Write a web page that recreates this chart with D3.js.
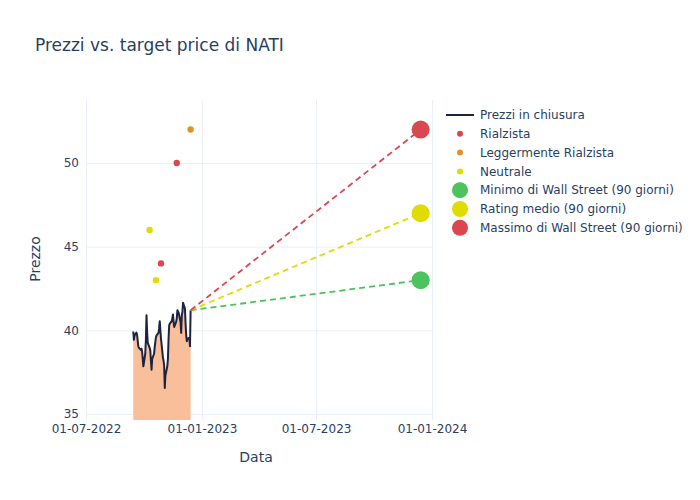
<!DOCTYPE html>
<html><head><meta charset="utf-8">
<script src="https://cdn.jsdelivr.net/npm/d3@7"></script>
<style>body{margin:0;background:#fff}svg, svg text{font-family:"DejaVu Sans",sans-serif}</style>
</head><body><svg id="c" width="700" height="500"></svg>
<script>
const dates = ["2022-09-14","2022-09-15","2022-09-16","2022-09-19","2022-09-20","2022-09-21","2022-09-22","2022-09-23","2022-09-26","2022-09-27","2022-09-28","2022-09-29","2022-09-30",
"2022-10-03","2022-10-04","2022-10-05","2022-10-06","2022-10-07","2022-10-10","2022-10-11","2022-10-12","2022-10-13","2022-10-14","2022-10-17","2022-10-18","2022-10-19","2022-10-20","2022-10-21","2022-10-24","2022-10-25","2022-10-26","2022-10-27","2022-10-28","2022-10-31",
"2022-11-01","2022-11-02","2022-11-03","2022-11-04","2022-11-07","2022-11-08","2022-11-09","2022-11-10","2022-11-11","2022-11-14","2022-11-15","2022-11-16","2022-11-17","2022-11-18","2022-11-21","2022-11-22","2022-11-23","2022-11-25","2022-11-28","2022-11-29","2022-11-30",
"2022-12-01","2022-12-02","2022-12-05","2022-12-06","2022-12-07","2022-12-08","2022-12-09","2022-12-12","2022-12-13","2022-12-14"];
const closes = [39.93,39.43,39.7,39.87,39.75,39.4,39.05,38.95,38.83,38.9,38.75,38.3,37.85,
38.6,39.4,40.9,39.9,39.25,38.95,38.8,38.2,37.65,38.3,38.6,39.0,39.3,39.6,39.7,39.85,40.1,40.55,40.0,39.5,38.4,
38.2,37.9,36.55,37.3,37.85,38.3,39.5,40.3,40.4,40.55,40.7,40.95,40.5,40.2,40.5,40.7,41.2,41.05,40.5,39.85,40.9,
41.1,41.65,41.3,40.4,39.7,39.35,39.5,39.55,39.05,41.2];

const ratingNames = ["Rialzista","Leggermente Rialzista","Neutrale"];
const ratingDates = [["2022-11-22","2022-10-28"],["2022-12-14"],["2022-10-10","2022-10-20"]];
const ratingValues = [[50,44],[52],[46,43]];

const targetDate = "2023-12-14";
const targetNames = ["Minimo di Wall Street (90 giorni)","Rating medio (90 giorni)","Massimo di Wall Street (90 giorni)"];
const targetValues = [43,47,52];

const xTicks = ["2022-07-01","2023-01-01","2023-07-01","2024-01-01"];
const yTicks = [35,40,45,50];

const FONT = "DejaVu Sans, sans-serif";
const textCol = "#2a3f5f", gridCol = "#ebf0f8";
const ratingCols = ["#d9474f","#e0922a","#e0dc00"];
const targetCols = ["#4cc35c","#e0dc00","#d9474f"];

const P = d3.timeParse("%Y-%m-%d");
const svg = d3.select("#c");
const L = 86, R = 433, T = 100, B = 420;
const x = d3.scaleTime().domain([P("2022-07-01"), P("2024-01-01")]).range([86, 432]);
const y = d3.scaleLinear().domain([35, 50]).range([414, 163]);

svg.append("defs").append("clipPath").attr("id","clip").append("rect").attr("x",L).attr("y",T).attr("width",R-L).attr("height",B-T);

const xAxis = d3.axisBottom(x).tickValues(xTicks.map(P)).tickFormat(d3.timeFormat("%d-%m-%Y")).tickSize(-(B-T)).tickPadding(8);
const gx = svg.append("g").attr("transform",`translate(0,${B})`).call(xAxis).attr("font-family",FONT);
gx.select(".domain").remove();
gx.selectAll("line").attr("stroke",gridCol);
gx.selectAll("text").attr("fill",textCol).attr("font-size",12).attr("dy","0.45em");

const yAxis = d3.axisLeft(y).tickValues(yTicks).tickSize(-(R-L)).tickPadding(7);
const gy = svg.append("g").attr("transform",`translate(${L},0)`).call(yAxis).attr("font-family",FONT);
gy.select(".domain").remove();
gy.selectAll("line").attr("stroke",gridCol);
gy.selectAll("text").attr("fill",textCol).attr("font-size",12);

const plot = svg.append("g").attr("clip-path","url(#clip)");
const pts = dates.map((d,i)=>({d:P(d), v:closes[i]}));

plot.append("path").datum(pts)
  .attr("d", d3.area().x(p=>x(p.d)).y0(y(0)).y1(p=>y(p.v)))
  .attr("fill","#f9bf9a");
plot.append("path").datum(pts)
  .attr("d", d3.line().x(p=>x(p.d)).y(p=>y(p.v)))
  .attr("fill","none").attr("stroke","#1c2440").attr("stroke-width",2).attr("stroke-linejoin","round");

const last = pts[pts.length-1];
targetValues.forEach((v,i)=>{
  plot.append("line").attr("x1",x(last.d)).attr("y1",y(last.v)).attr("x2",x(P(targetDate))).attr("y2",y(v))
    .attr("stroke",targetCols[i]).attr("stroke-width",1.8).attr("stroke-dasharray","6,4");
});
ratingNames.forEach((n,k)=>{
  ratingDates[k].forEach((d,j)=>{
    plot.append("circle").attr("cx",x(P(d))).attr("cy",y(ratingValues[k][j])).attr("r",3.2).attr("fill",ratingCols[k]);
  });
});
targetValues.forEach((v,i)=>{
  svg.append("circle").attr("cx",x(P(targetDate))).attr("cy",y(v)).attr("r",9).attr("fill",targetCols[i]);
});

svg.append("text").attr("x",35).attr("y",51).attr("fill",textCol).attr("font-size",17).text("Prezzi vs. target price di NATI");
svg.append("text").attr("x",256).attr("y",462).attr("text-anchor","middle").attr("fill",textCol).attr("font-size",14).text("Data");
svg.append("text").attr("transform",`translate(40,259) rotate(-90)`).attr("text-anchor","middle").attr("fill",textCol).attr("font-size",14).text("Prezzo");

const lg = svg.append("g");
const rowY = i => 115 + i*18.8;
lg.append("line").attr("x1",446).attr("x2",474).attr("y1",rowY(0)).attr("y2",rowY(0)).attr("stroke","#1c2440").attr("stroke-width",2);
lg.append("text").attr("x",480).attr("y",rowY(0)).attr("dy","0.35em").attr("fill",textCol).attr("font-size",12).text("Prezzi in chiusura");
ratingNames.forEach((n,k)=>{
  lg.append("circle").attr("cx",460).attr("cy",rowY(k+1)).attr("r",3).attr("fill",ratingCols[k]);
  lg.append("text").attr("x",480).attr("y",rowY(k+1)).attr("dy","0.35em").attr("fill",textCol).attr("font-size",12).text(n);
});
targetNames.forEach((n,i)=>{
  lg.append("circle").attr("cx",460).attr("cy",rowY(i+4)).attr("r",8).attr("fill",targetCols[i]);
  lg.append("text").attr("x",480).attr("y",rowY(i+4)).attr("dy","0.35em").attr("fill",textCol).attr("font-size",12).text(n);
});
</script></body></html>
